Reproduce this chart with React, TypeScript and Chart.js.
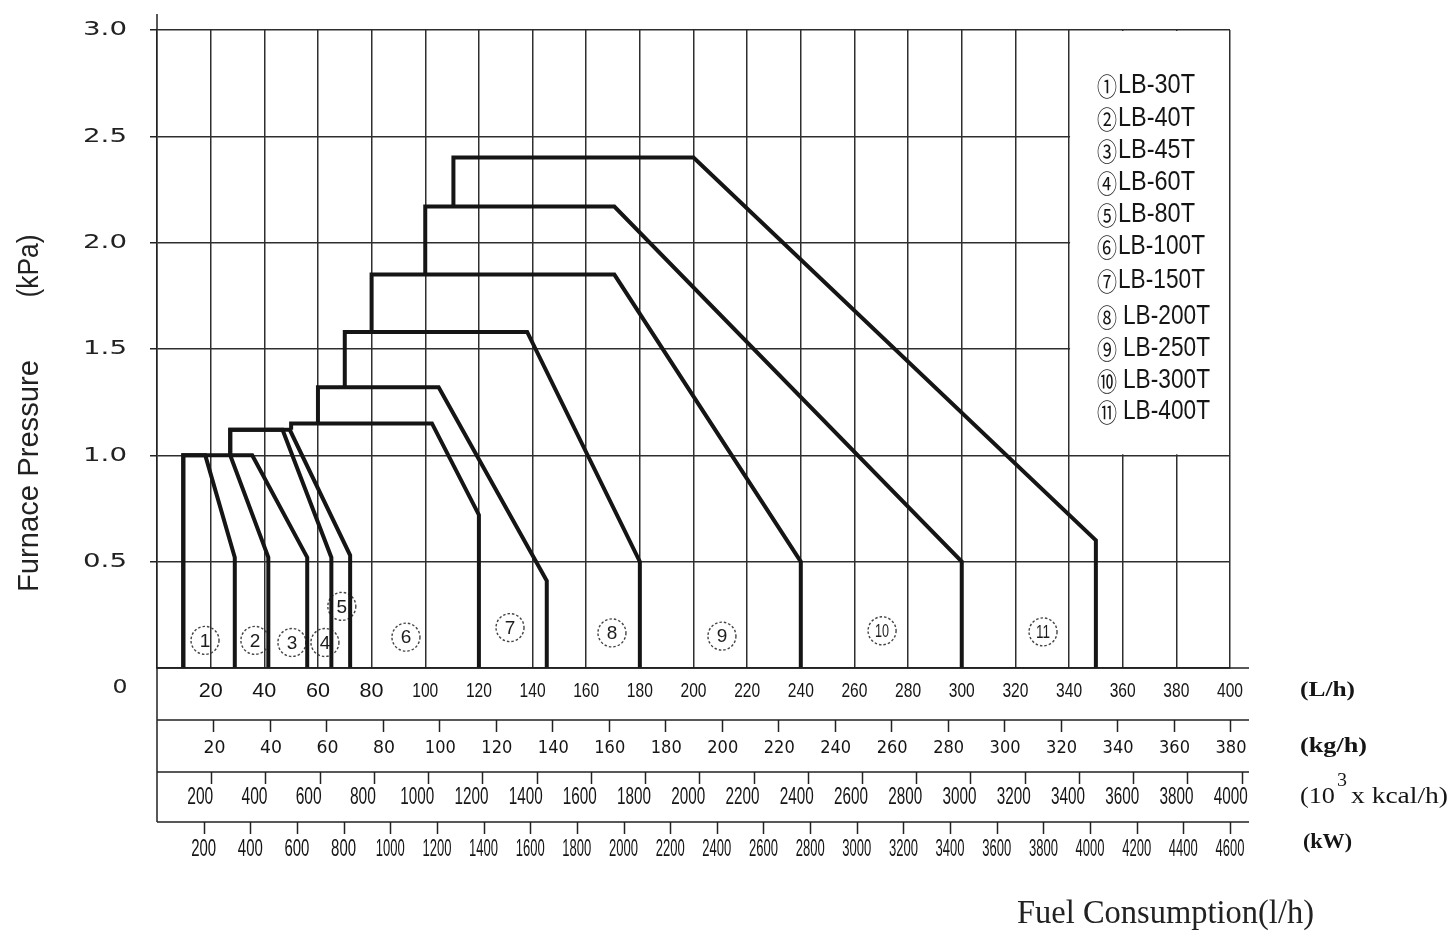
import React, { useEffect, useRef } from 'react';
import { Chart, registerables } from 'chart.js';

Chart.register(...registerables);

// ---------- data ----------
const MODEL_NAMES = ['LB-30T', 'LB-40T', 'LB-45T', 'LB-60T', 'LB-80T', 'LB-100T', 'LB-150T', 'LB-200T', 'LB-250T', 'LB-300T', 'LB-400T'];
const MODEL_MARKS = ['①', '②', '③', '④', '⑤', '⑥', '⑦', '⑧', '⑨', '⑩', '⑪'];
const TAG_TEXT = ['1', '2', '3', '4', '5', '6', '7', '8', '9', '10', '11'];

// each working field: start (L/h, kPa) -> up to top -> right to corner -> down to end -> down to 0
const START_X = [9.8, 9.8, 27.3, 27.3, 27.3, 50, 60, 70, 80, 100, 110.5];
const START_Y = [0, 0, 1.0, 1.0, 1.0, 1.12, 1.15, 1.32, 1.58, 1.85, 2.17];
const TOP_Y = [1.0, 1.0, 1.0, 1.12, 1.12, 1.15, 1.32, 1.58, 1.85, 2.17, 2.4];
const CORNER_X = [18, 27.3, 35.5, 46.8, 49.5, 102.5, 105, 138, 170.5, 170.5, 200];
const END_X = [29, 41.5, 56, 65, 72, 120, 145.3, 180, 240, 300, 350];
const END_Y = [0.52, 0.52, 0.52, 0.52, 0.53, 0.72, 0.41, 0.5, 0.5, 0.5, 0.6];

// circled tags inside each field (L/h, kPa)
const TAG_X = [17.9, 36.5, 50.3, 62.6, 68.9, 92.8, 131.6, 169.6, 210.6, 270.3, 330.3];
const TAG_Y = [0.13, 0.13, 0.12, 0.12, 0.29, 0.145, 0.19, 0.165, 0.15, 0.175, 0.17];

const Y_TICKS = [0.5, 1.0, 1.5, 2.0, 2.5, 3.0];
const LH_TICKS = [20, 40, 60, 80, 100, 120, 140, 160, 180, 200, 220, 240, 260, 280, 300, 320, 340, 360, 380, 400];
const KG_TICKS = [20, 40, 60, 80, 100, 120, 140, 160, 180, 200, 220, 240, 260, 280, 300, 320, 340, 360, 380];
const KCAL_TICKS = [200, 400, 600, 800, 1000, 1200, 1400, 1600, 1800, 2000, 2200, 2400, 2600, 2800, 3000, 3200, 3400, 3600, 3800, 4000];
const KW_TICKS = [200, 400, 600, 800, 1000, 1200, 1400, 1600, 1800, 2000, 2200, 2400, 2600, 2800, 3000, 3200, 3400, 3600, 3800, 4000, 4200, 4400, 4600];

const X_MAX = 400;
const Y_MAX = 3;
const KG_MAX = 380;
const KCAL_MAX = 3957;
const KW_MAX = 4600;
const LEGEND_X_FROM = 340;
const LEGEND_Y_FROM = 1.0;

// ---------- styles / layout ----------
const INK = '#151515';
const GRID = '#2e2e2e';
const LEGEND_ROW_Y = [85, 118, 150, 182, 214, 246, 280, 316, 348, 380, 411];

function fitText(
  ctx: CanvasRenderingContext2D,
  text: string,
  x: number,
  y: number,
  font: string,
  width: number | null,
  align: 'left' | 'center' | 'right',
  baseline: CanvasTextBaseline = 'middle',
  color = INK
) {
  ctx.save();
  ctx.font = font;
  ctx.fillStyle = color;
  ctx.textBaseline = baseline;
  ctx.textAlign = 'left';
  const natural = ctx.measureText(text).width;
  const w = width ?? natural;
  const s = w / natural;
  const left = align === 'left' ? x : align === 'center' ? x - w / 2 : x - w;
  ctx.translate(left, y);
  ctx.scale(s, 1);
  ctx.fillText(text, 0, 0);
  ctx.restore();
}

const overlayPlugin = {
  id: 'overlay',
  beforeDatasetsDraw(chart: any) {
    const { ctx } = chart;
    const x = chart.scales.x;
    const y = chart.scales.y;
    ctx.save();
    // legend box: hide grid inside
    const l = x.getPixelForValue(LEGEND_X_FROM) + 1;
    const r = x.getPixelForValue(X_MAX) - 1;
    const t = y.getPixelForValue(Y_MAX) + 1;
    const b = y.getPixelForValue(LEGEND_Y_FROM) - 1;
    ctx.fillStyle = '#fff';
    ctx.fillRect(l, t, r - l, b - t);

    // dashed circled tags
    TAG_TEXT.forEach((txt, i) => {
      const cx = x.getPixelForValue(TAG_X[i]);
      const cy = y.getPixelForValue(TAG_Y[i]);
      ctx.save();
      ctx.beginPath();
      ctx.setLineDash([2.5, 2]);
      ctx.lineWidth = 1.4;
      ctx.strokeStyle = '#444';
      ctx.arc(cx, cy, 14, 0, Math.PI * 2);
      ctx.stroke();
      ctx.restore();
      fitText(ctx, txt, cx, cy + 1, '19px "Liberation Sans"', txt.length > 1 ? 14 : null, 'center', 'middle', '#1d1d1d');
    });
    ctx.restore();
  },
  afterDraw(chart: any) {
    const { ctx, chartArea } = chart;
    const x = chart.scales.x;
    const y = chart.scales.y;
    const xKg = chart.scales.xKg;
    const xKcal = chart.scales.xKcal;
    const xKw = chart.scales.xKw;
    const left = chartArea.left;
    const bottom = chartArea.bottom;
    const lineEnd = x.getPixelForValue(X_MAX) + 19;

    ctx.save();
    ctx.strokeStyle = '#222';
    ctx.lineWidth = 1.5;
    // axis extensions
    ctx.beginPath();
    ctx.moveTo(left, 14);
    ctx.lineTo(left, chartArea.top);
    ctx.moveTo(left, bottom);
    ctx.lineTo(left, bottom + 154);
    ctx.stroke();

    // row lines
    const rowLines = [bottom, bottom + 52, bottom + 104, bottom + 154];
    ctx.beginPath();
    rowLines.forEach((ry) => {
      ctx.moveTo(left, ry);
      ctx.lineTo(lineEnd, ry);
    });
    ctx.stroke();

    // row ticks
    ctx.beginPath();
    KG_TICKS.forEach((v) => {
      const px = Math.round(xKg.getPixelForValue(v)) + 0.5;
      ctx.moveTo(px, rowLines[1]);
      ctx.lineTo(px, rowLines[1] + 12);
    });
    KCAL_TICKS.forEach((v) => {
      const px = Math.round(xKcal.getPixelForValue(v)) + 0.5;
      ctx.moveTo(px, rowLines[2]);
      ctx.lineTo(px, rowLines[2] + 12);
    });
    KW_TICKS.forEach((v) => {
      const px = Math.round(xKw.getPixelForValue(v)) + 0.5;
      ctx.moveTo(px, rowLines[3]);
      ctx.lineTo(px, rowLines[3] + 12);
    });
    ctx.stroke();
    ctx.restore();

    // row labels
    LH_TICKS.forEach((v) => {
      const s = String(v);
      fitText(ctx, s, x.getPixelForValue(v), bottom + 23, '21px "Liberation Sans"', s.length === 2 ? 24 : 26, 'center');
    });
    KG_TICKS.forEach((v) => {
      const s = String(v);
      fitText(ctx, s, xKg.getPixelForValue(v) + 1, bottom + 80, '18px "DejaVu Sans"', s.length === 2 ? 22 : 31, 'center');
    });
    KCAL_TICKS.forEach((v) => {
      const s = String(v);
      fitText(ctx, s, xKcal.getPixelForValue(v) - 11, bottom + 130, '23px "Liberation Sans"', s.length === 3 ? 26 : 34, 'center');
    });
    KW_TICKS.forEach((v) => {
      const s = String(v);
      fitText(ctx, s, xKw.getPixelForValue(v), bottom + 181, '24px "Liberation Sans"', s.length === 3 ? 25 : 29, 'center');
    });

    // unit labels
    const serifB = 'bold 22px "Liberation Serif"';
    fitText(ctx, '(L/h)', 1300, bottom + 22, serifB, 55, 'left');
    fitText(ctx, '(kg/h)', 1300, bottom + 78, serifB, 67, 'left');
    fitText(ctx, '(10', 1300, bottom + 129, '23px "Liberation Serif"', 35, 'left');
    fitText(ctx, '3', 1337, bottom + 113, '18px "Liberation Serif"', 10, 'left');
    fitText(ctx, 'x kcal/h)', 1351, bottom + 129, '23px "Liberation Serif"', 97, 'left');
    fitText(ctx, '(kW)', 1303, bottom + 174, serifB, 49, 'left');

    // y tick labels
    Y_TICKS.forEach((v) => {
      fitText(ctx, v.toFixed(1), 127, y.getPixelForValue(v), '20px "DejaVu Sans"', 44, 'right', 'middle', '#222');
    });
    fitText(ctx, '0', 120, y.getPixelForValue(0) + 20, '20px "DejaVu Sans"', 15, 'center', 'middle', '#222');

    // y axis title (rotated)
    ctx.save();
    ctx.translate(38, 476);
    ctx.rotate(-Math.PI / 2);
    fitText(ctx, 'Furnace Pressure', 0, 0, '29px "Liberation Sans"', 232, 'center', 'alphabetic', '#222');
    ctx.restore();
    ctx.save();
    ctx.translate(38, 266);
    ctx.rotate(-Math.PI / 2);
    fitText(ctx, '(kPa)', 0, 0, '29px "Liberation Sans"', 63, 'center', 'alphabetic', '#222');
    ctx.restore();

    // x title
    fitText(ctx, 'Fuel Consumption(l/h)', 1017, 923, '33px "Liberation Serif"', 297, 'left', 'alphabetic', '#222');

    // legend
    MODEL_NAMES.forEach((name, i) => {
      const ly = LEGEND_ROW_Y[i];
      fitText(ctx, MODEL_MARKS[i], 1097, ly + 1, '25px "Noto Sans CJK JP", "DejaVu Sans"', 20, 'left');
      const tx = i >= 7 ? 1123 : 1118;
      fitText(ctx, name, tx, ly + 1, '27px "Liberation Sans"', name.length === 6 ? 77 : 87, 'left');
    });
  },
};

export default function App() {
  const ref = useRef<HTMLCanvasElement | null>(null);

  useEffect(() => {
    if (!ref.current) return;
    const datasets = MODEL_NAMES.map((name, i) => ({
      label: name,
      data: [
        { x: START_X[i], y: START_Y[i] },
        { x: START_X[i], y: TOP_Y[i] },
        { x: CORNER_X[i], y: TOP_Y[i] },
        { x: END_X[i], y: END_Y[i] },
        { x: END_X[i], y: 0 },
      ],
      borderColor: INK,
      backgroundColor: INK,
      borderWidth: 4,
      pointRadius: 0,
      fill: false,
      tension: 0,
      borderJoinStyle: 'miter' as const,
      borderCapStyle: 'butt' as const,
      xAxisID: 'x',
      yAxisID: 'y',
    }));

    const chart = new Chart(ref.current, {
      type: 'line',
      data: { datasets },
      options: {
        animation: false,
        responsive: false,
        maintainAspectRatio: false,
        devicePixelRatio: 1,
        layout: { padding: { top: 30, right: 222, left: 0, bottom: 0 } },
        plugins: { legend: { display: false }, tooltip: { enabled: false } },
        scales: {
          x: {
            type: 'linear',
            position: 'bottom',
            min: 0,
            max: X_MAX,
            ticks: { stepSize: 20, display: false },
            grid: { color: GRID, lineWidth: 1.5, drawTicks: false },
            border: { color: '#222', width: 1.5 },
            afterFit: (s: any) => {
              s.height = 263;
            },
          },
          y: {
            type: 'linear',
            min: 0,
            max: Y_MAX,
            ticks: { stepSize: 0.5, display: false },
            grid: {
              color: GRID,
              lineWidth: 1.5,
              tickLength: 7,
              tickColor: (c: any) => (c.tick && c.tick.value === 0 ? 'rgba(0,0,0,0)' : '#222'),
            },
            border: { color: '#222', width: 1.5 },
            afterFit: (s: any) => {
              s.width = 157;
            },
          },
          xKg: { type: 'linear', display: false, position: 'bottom', min: 0, max: KG_MAX },
          xKcal: { type: 'linear', display: false, position: 'bottom', min: 0, max: KCAL_MAX },
          xKw: { type: 'linear', display: false, position: 'bottom', min: 0, max: KW_MAX },
        },
      } as any,
      plugins: [overlayPlugin],
    });
    return () => chart.destroy();
  }, []);

  return (
    <div style={{ position: 'absolute', left: 0, top: 0, width: 1452, height: 931, background: '#fff' }}>
      <canvas ref={ref} width={1452} height={931} style={{ display: 'block', width: 1452, height: 931 }} />
    </div>
  );
}
